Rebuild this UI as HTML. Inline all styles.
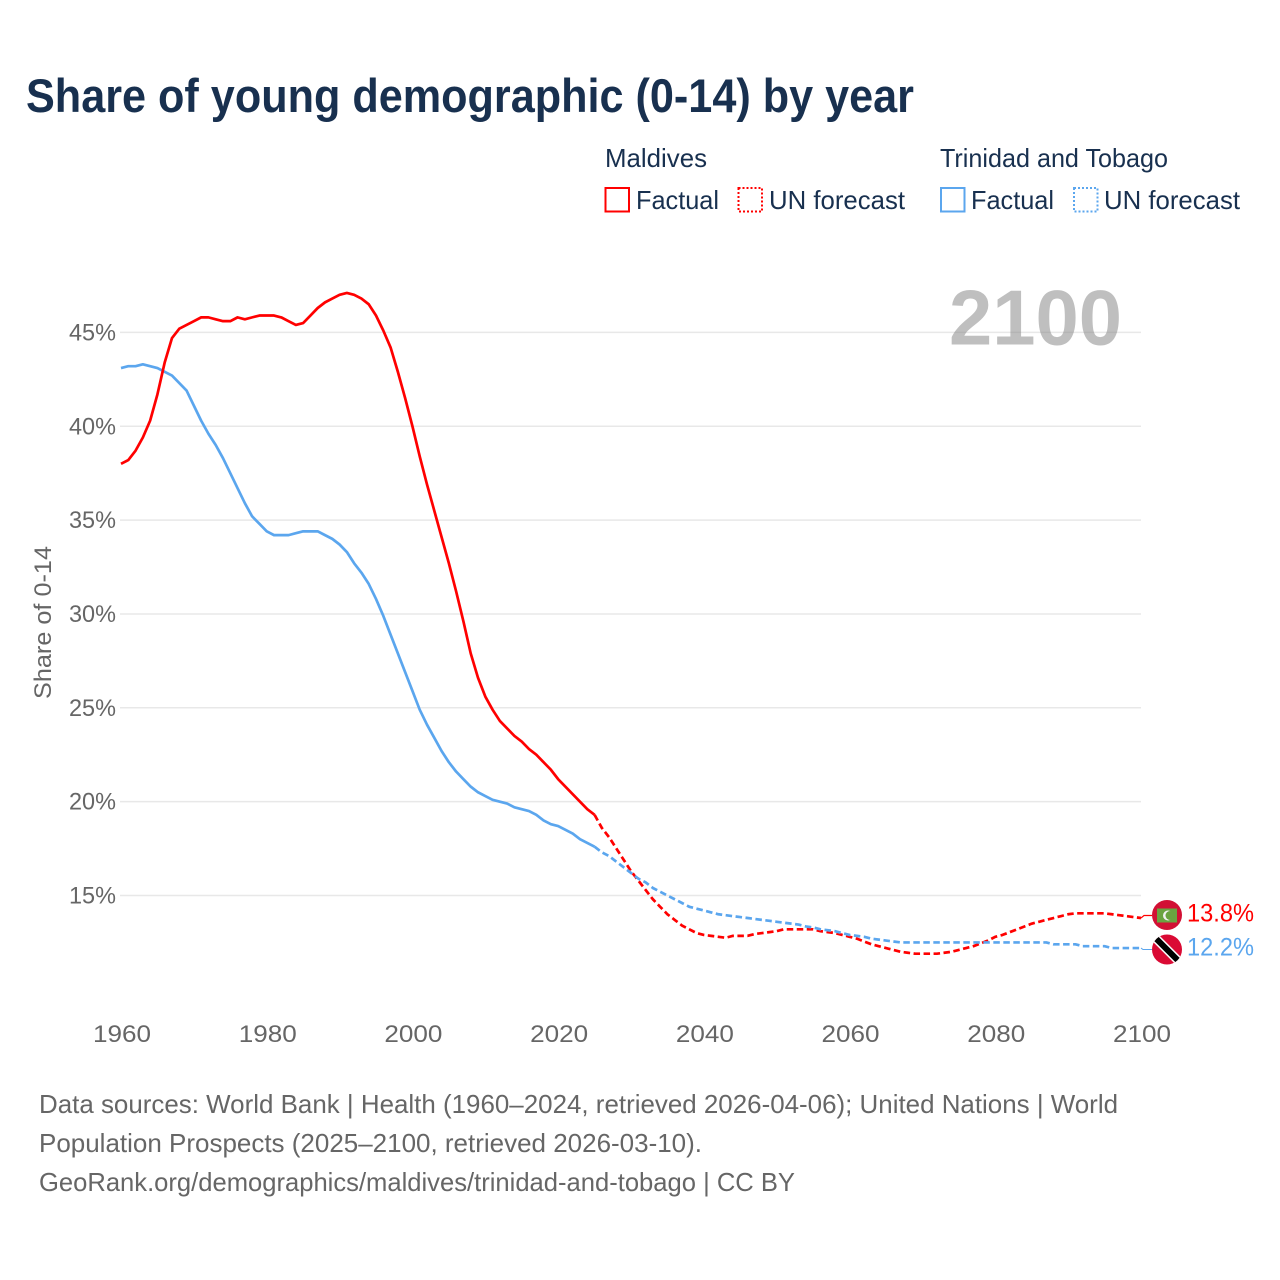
<!DOCTYPE html>
<html lang="en">
<head>
<meta charset="utf-8">
<title>Share of young demographic (0-14) by year</title>
<style>
html,body{margin:0;padding:0;background:#fff}
svg{display:block}
text{font-family:"Liberation Sans",sans-serif}
</style>
</head>
<body>
<svg id="chart" xmlns="http://www.w3.org/2000/svg" width="1280" height="1280" viewBox="0 0 1280 1280">
  <rect width="1280" height="1280" fill="#fff"/>
  <text x="26" y="112" font-size="47" font-weight="700" fill="#18304f" textLength="888" lengthAdjust="spacingAndGlyphs">Share of young demographic (0-14) by year</text>

  <g font-size="26" fill="#18304f">
    <text x="605" y="167" textLength="102" lengthAdjust="spacingAndGlyphs">Maldives</text>
    <rect x="605.5" y="188" width="23.5" height="23.5" fill="none" stroke="#ff0000" stroke-width="2"/>
    <text x="636" y="209" textLength="83" lengthAdjust="spacingAndGlyphs">Factual</text>
    <rect x="738.5" y="188" width="23.5" height="23.5" fill="none" stroke="#ff0000" stroke-width="2" stroke-dasharray="2 2"/>
    <text x="769" y="209" textLength="136" lengthAdjust="spacingAndGlyphs">UN forecast</text>
    <text x="940" y="167" textLength="228" lengthAdjust="spacingAndGlyphs">Trinidad and Tobago</text>
    <rect x="941" y="188" width="23.5" height="23.5" fill="none" stroke="#5ba6ee" stroke-width="2"/>
    <text x="971" y="209" textLength="83" lengthAdjust="spacingAndGlyphs">Factual</text>
    <rect x="1074" y="188" width="23.5" height="23.5" fill="none" stroke="#5ba6ee" stroke-width="2" stroke-dasharray="2 2"/>
    <text x="1104" y="209" textLength="136" lengthAdjust="spacingAndGlyphs">UN forecast</text>
  </g>

  <g id="grid"></g>
  <g id="yticks"></g>
  <g id="xticks"></g>

  <text x="949" y="344.5" font-size="78" font-weight="700" fill="#7f7f7f" fill-opacity="0.5" textLength="173" lengthAdjust="spacingAndGlyphs">2100</text>
  <text transform="translate(51,699) rotate(-90)" font-size="24" fill="#666" textLength="153" lengthAdjust="spacingAndGlyphs">Share of 0-14</text>

  <g id="series"></g>

  <g>
    <circle cx="1167" cy="915" r="15" fill="#d21034"/>
    <rect x="1157" y="908.5" width="20" height="14" fill="#6aa341"/>
    <circle cx="1168" cy="915.5" r="5" fill="#f2f2f2"/>
    <circle cx="1170" cy="915.5" r="4.5" fill="#6aa341"/>
  </g>
  <g>
    <clipPath id="tt-clip"><circle cx="1167" cy="949.5" r="15"/></clipPath>
    <circle cx="1167" cy="949.5" r="15" fill="#da0a34"/>
    <g clip-path="url(#tt-clip)">
      <line x1="1153" y1="935.5" x2="1181" y2="963.5" stroke="#fff" stroke-width="9"/>
      <line x1="1153" y1="935.5" x2="1181" y2="963.5" stroke="#000" stroke-width="6"/>
    </g>
  </g>
  <text id="label-maldives" x="1187" y="921.5" font-size="25" fill="#ff0000" textLength="67" lengthAdjust="spacingAndGlyphs"></text>
  <text id="label-trinidad" x="1187" y="955.5" font-size="25" fill="#5ba6ee" textLength="67" lengthAdjust="spacingAndGlyphs"></text>

  <g font-size="26" fill="#666">
    <text x="39" y="1113" textLength="1079" lengthAdjust="spacingAndGlyphs">Data sources: World Bank | Health (1960–2024, retrieved 2026-04-06); United Nations | World</text>
    <text x="39" y="1152" textLength="663" lengthAdjust="spacingAndGlyphs">Population Prospects (2025–2100, retrieved 2026-03-10).</text>
    <text x="39" y="1191" textLength="756" lengthAdjust="spacingAndGlyphs">GeoRank.org/demographics/maldives/trinidad-and-tobago | CC BY</text>
  </g>
</svg>
<script>
const factualYears = [1960,1961,1962,1963,1964,1965,1966,1967,1968,1969,1970,1971,1972,1973,1974,1975,1976,1977,1978,1979,1980,1981,1982,1983,1984,1985,1986,1987,1988,1989,1990,1991,1992,1993,1994,1995,1996,1997,1998,1999,2000,2001,2002,2003,2004,2005,2006,2007,2008,2009,2010,2011,2012,2013,2014,2015,2016,2017,2018,2019,2020,2021,2022,2023,2024,2025];
const forecastYears = [2025,2026,2027,2028,2029,2030,2031,2032,2033,2034,2035,2036,2037,2038,2039,2040,2041,2042,2043,2044,2045,2046,2047,2048,2049,2050,2051,2052,2053,2054,2055,2056,2057,2058,2059,2060,2061,2062,2063,2064,2065,2066,2067,2068,2069,2070,2071,2072,2073,2074,2075,2076,2077,2078,2079,2080,2081,2082,2083,2084,2085,2086,2087,2088,2089,2090,2091,2092,2093,2094,2095,2096,2097,2098,2099,2100];
const maldivesFactual = [38.0,38.2,38.7,39.4,40.3,41.7,43.4,44.7,45.2,45.4,45.6,45.8,45.8,45.7,45.6,45.6,45.8,45.7,45.8,45.9,45.9,45.9,45.8,45.6,45.4,45.5,45.9,46.3,46.6,46.8,47.0,47.1,47.0,46.8,46.5,45.9,45.1,44.2,42.9,41.5,40.0,38.4,36.9,35.5,34.1,32.7,31.2,29.6,27.9,26.6,25.6,24.9,24.3,23.9,23.5,23.2,22.8,22.5,22.1,21.7,21.2,20.8,20.4,20.0,19.6,19.3];
const trinidadFactual = [43.1,43.2,43.2,43.3,43.2,43.1,42.9,42.7,42.3,41.9,41.1,40.3,39.6,39.0,38.3,37.5,36.7,35.9,35.2,34.8,34.4,34.2,34.2,34.2,34.3,34.4,34.4,34.4,34.2,34.0,33.7,33.3,32.7,32.2,31.6,30.8,29.9,28.9,27.9,26.9,25.9,24.9,24.1,23.4,22.7,22.1,21.6,21.2,20.8,20.5,20.3,20.1,20.0,19.9,19.7,19.6,19.5,19.3,19.0,18.8,18.7,18.5,18.3,18.0,17.8,17.6];
const maldivesForecast = [19.3,18.6,18.1,17.5,16.9,16.3,15.8,15.3,14.8,14.4,14.0,13.7,13.4,13.2,13.0,12.9,12.85,12.8,12.75,12.85,12.85,12.85,12.95,13.0,13.05,13.1,13.2,13.2,13.2,13.2,13.2,13.1,13.05,13.0,12.9,12.8,12.7,12.55,12.4,12.3,12.2,12.1,12.0,11.95,11.9,11.9,11.9,11.9,11.95,12.0,12.1,12.2,12.3,12.45,12.6,12.8,12.9,13.05,13.2,13.35,13.5,13.6,13.7,13.8,13.9,14.0,14.05,14.05,14.05,14.05,14.05,14.0,13.95,13.9,13.85,13.8];
const trinidadForecast = [17.6,17.3,17.1,16.8,16.5,16.2,15.9,15.7,15.4,15.2,15.0,14.8,14.6,14.4,14.3,14.2,14.1,14.0,13.95,13.9,13.85,13.8,13.75,13.7,13.65,13.6,13.55,13.5,13.45,13.35,13.3,13.2,13.15,13.1,13.0,12.9,12.85,12.8,12.7,12.65,12.6,12.55,12.5,12.5,12.5,12.5,12.5,12.5,12.5,12.5,12.5,12.5,12.5,12.5,12.5,12.5,12.5,12.5,12.5,12.5,12.5,12.5,12.5,12.4,12.4,12.4,12.4,12.3,12.3,12.3,12.3,12.2,12.2,12.2,12.2,12.2];
const yTickValues = [15,20,25,30,35,40,45];
const xTickValues = [1960,1980,2000,2020,2040,2060,2080,2100];

const SVG_NS = 'http://www.w3.org/2000/svg';
function xScale(year){ return 121 + (year - 1960) * (1020 / 140); }
function yScale(v){ return 895.5 - (v - 15) * 18.77; }
function pathFrom(years, values){
  return values.map(function(v, i){
    return (i ? 'L' : 'M') + xScale(years[i]).toFixed(2) + ' ' + yScale(v).toFixed(2);
  }).join(' ');
}
function make(tag, attrs){
  const el = document.createElementNS(SVG_NS, tag);
  Object.keys(attrs).forEach(function(k){ el.setAttribute(k, attrs[k]); });
  return el;
}

const gridG = document.getElementById('grid');
const yTickG = document.getElementById('yticks');
const xTickG = document.getElementById('xticks');
const seriesG = document.getElementById('series');

yTickValues.forEach(function(v){
  const line = make('line', {x1: 120, x2: 1141, y1: yScale(v), y2: yScale(v), stroke: '#e8e8e8', 'stroke-width': 1.5});
  
  
  gridG.appendChild(line);
  const label = make('text', {x: 116, y: yScale(v) + 8, 'text-anchor': 'end', 'font-size': 24, fill: '#666', textLength: 47, lengthAdjust: 'spacingAndGlyphs'});
  
  
  label.textContent = v + '%';
  yTickG.appendChild(label);
});
xTickValues.forEach(function(yr){
  const label = make('text', {x: xScale(yr) + 1, y: 1042, 'text-anchor': 'middle', 'font-size': 24, fill: '#666', textLength: 58, lengthAdjust: 'spacingAndGlyphs'});
  
  
  label.textContent = String(yr);
  xTickG.appendChild(label);
});

const RED = '#ff0000';
const BLUE = '#5ba6ee';
function addLine(name, years, values, color, dashed){
  const p = make('path', {d: pathFrom(years, values), fill: 'none', stroke: color, 'stroke-width': 2.7, 'stroke-linejoin': 'round'});
  if (dashed) { p.setAttribute('stroke-dasharray', '6.5 3.5'); }
  
  
  seriesG.appendChild(p);
}
addLine('line-maldives-forecast', forecastYears, maldivesForecast, RED, true);
addLine('line-trinidad-forecast', forecastYears, trinidadForecast, BLUE, true);
addLine('line-trinidad-factual', factualYears, trinidadFactual, BLUE, false);
addLine('line-maldives-factual', factualYears, maldivesFactual, RED, false);

const lastRed = maldivesForecast[maldivesForecast.length - 1];
const lastBlue = trinidadForecast[trinidadForecast.length - 1];
const c1 = make('path', {d: 'M' + xScale(2100) + ' ' + yScale(lastRed) + ' L1144 915.5 L1152 915.5', fill: 'none', stroke: RED, 'stroke-width': 1.2});


seriesG.appendChild(c1);
const c2 = make('path', {d: 'M' + xScale(2100) + ' ' + yScale(lastBlue) + ' L1143 949.5 L1152 949.5', fill: 'none', stroke: BLUE, 'stroke-width': 1});


seriesG.appendChild(c2);

document.getElementById('label-maldives').textContent = lastRed.toFixed(1) + '%';
document.getElementById('label-trinidad').textContent = lastBlue.toFixed(1) + '%';
</script>
</body>
</html>
